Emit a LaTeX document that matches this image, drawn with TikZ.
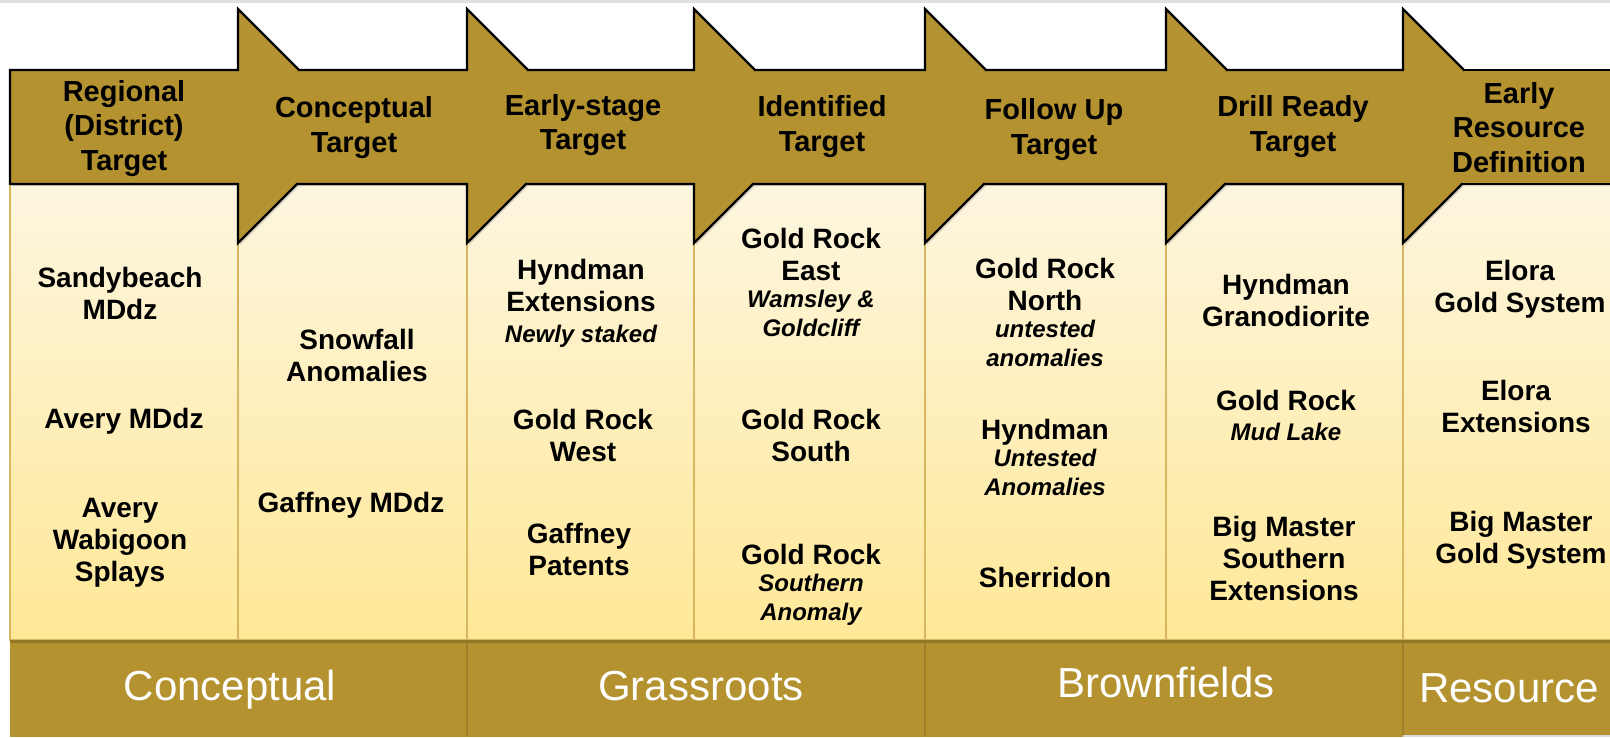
\documentclass[tikz,border=0pt]{standalone}
\usepackage{fontspec}
\setmainfont{Liberation Sans}
\usetikzlibrary{positioning,shadows}

\definecolor{gold}{HTML}{B3922F}
\definecolor{cream}{HTML}{FDF6E0}
\definecolor{butter}{HTML}{FFE897}
\definecolor{rim}{HTML}{D9B760}

\begin{document}
\begin{tikzpicture}[x=1pt, y=-1pt,
    column/.style={draw=rim, line width=2pt, top color=cream, bottom color=butter},
    chevron/.style={fill=gold, drop shadow={shadow xshift=2pt, shadow yshift=-2pt, opacity=.3}},
    outline/.style={draw=black, line width=2.2pt, line join=miter},
    head/.style={font=\bfseries\fontsize{29}{34.5}\selectfont, align=center, inner sep=0pt,
        execute at begin node=\strut, execute at end node=\strut},
    item/.style={font=\bfseries\fontsize{28}{32}\selectfont, align=center, inner sep=0pt,
        execute at begin node=\strut, execute at end node=\strut},
    note/.style={font=\bfseries\itshape\fontsize{24}{29}\selectfont, align=center, inner sep=0pt,
        execute at begin node=\strut, execute at end node=\strut},
    phase/.style={font=\fontsize{42}{48}\selectfont, text=white, inner sep=0pt, anchor=base}]
            \useasboundingbox (0,0) rectangle (1610,737);
            \fill[black!12] (0,0) rectangle (1610,3);

            \path[column] (10,184) rectangle (238,640);
            \path[column] (238,184) rectangle (467,640);
            \path[column] (467,184) rectangle (694,640);
            \path[column] (694,184) rectangle (925,640);
            \path[column] (925,184) rectangle (1166,640);
            \path[column] (1166,184) rectangle (1403,640);
            \path[column] (1403,184) rectangle (1614,640);

            \fill[gold] (10,640) rectangle (467,737);
            \fill[gold] (467,640) rectangle (925,737);
            \fill[gold] (925,640) rectangle (1403,737);
            \fill[gold] (1403,640) rectangle (1610,735);
            \fill[black!15] (1403,735) rectangle (1610,737);
            \draw[gold!65!black, line width=2.5pt, opacity=.5] (10,641.5) -- (1610,641.5);
            \draw[gold!80!black, line width=1.5pt, opacity=.6] (467,640) -- (467,737);
            \draw[gold!80!black, line width=1.5pt, opacity=.6] (925,640) -- (925,737);
            \draw[gold!80!black, line width=1.5pt, opacity=.6] (1403,640) -- (1403,735);

            \path[chevron] (10,70) -- (238,70) -- (238,9) -- (355,126) -- (238,243) -- (238,184) -- (10,184) -- cycle;
            \draw[outline] (10,70) -- (238,70) -- (238,9) -- (355,126) -- (238,243) -- (238,184) -- (10,184) -- cycle;
            \path[chevron] (299,70) -- (467,70) -- (467,9) -- (584,126) -- (467,243) -- (467,184) -- (297,184) -- cycle;
            \draw[outline] (297,184) -- (467,184) -- (467,243) -- (584,126) -- (467,9) -- (467,70) -- (299,70);
            \path[chevron] (528,70) -- (694,70) -- (694,9) -- (811,126) -- (694,243) -- (694,184) -- (526,184) -- cycle;
            \draw[outline] (526,184) -- (694,184) -- (694,243) -- (811,126) -- (694,9) -- (694,70) -- (528,70);
            \path[chevron] (755,70) -- (925,70) -- (925,9) -- (1042,126) -- (925,243) -- (925,184) -- (753,184) -- cycle;
            \draw[outline] (753,184) -- (925,184) -- (925,243) -- (1042,126) -- (925,9) -- (925,70) -- (755,70);
            \path[chevron] (986,70) -- (1166,70) -- (1166,9) -- (1283,126) -- (1166,243) -- (1166,184) -- (984,184) -- cycle;
            \draw[outline] (984,184) -- (1166,184) -- (1166,243) -- (1283,126) -- (1166,9) -- (1166,70) -- (986,70);
            \path[chevron] (1227,70) -- (1403,70) -- (1403,9) -- (1520,126) -- (1403,243) -- (1403,184) -- (1225,184) -- cycle;
            \draw[outline] (1225,184) -- (1403,184) -- (1403,243) -- (1520,126) -- (1403,9) -- (1403,70) -- (1227,70);
            \path[chevron] (1464,70) -- (1616,70) -- (1616,184) -- (1462,184) -- cycle;
            \draw[outline] (1462,184) -- (1616,184) (1464,70) -- (1616,70);

            \node[head] (regional) at (124,130.5) {Regional\\(District)\\Target};
            \node[head] (concept) at (354,129.5) {Conceptual\\Target};
            \node[head] (early) at (583,127) {Early-stage\\Target};
            \node[head] (ident) at (822,128.5) {Identified\\Target};
            \node[head] (follow) at (1054,131.5) {Follow Up\\Target};
            \node[head] (drill) at (1293,128.5) {Drill Ready\\Target};
            \node[head] (resdef) at (1519,132.5) {Early\\Resource\\Definition};

            \node[item] (sandy) at (120,298) {Sandybeach\\MDdz};
            \node[item] (avery) at (124,421.6) {Avery MDdz};
            \node[item] (wabi) at (120,545) {Avery\\Wabigoon\\Splays};

            \node[item] (snow) at (357,360) {Snowfall\\Anomalies};
            \node[item] (gaffm) at (351,505.6) {Gaffney MDdz};

            \node[item] (hynext) at (581,290.6) {Hyndman\\Extensions};
            \node[note, below=0pt of hynext] (newly) {Newly staked};
            \node[item] (gwest) at (583,440) {Gold Rock\\West};
            \node[item] (gpat) at (579,554) {Gaffney\\Patents};

            \node[item] (geast) at (811,259) {Gold Rock\\East};
            \node[note, below=0pt of geast] (wams) {Wamsley \&\\Goldcliff};
            \node[item] (gsouth) at (811,440) {Gold Rock\\South};
            \node[item] (gsanom) at (811,557.6) {Gold Rock};
            \node[note, below=0pt of gsanom] (sanom) {Southern\\Anomaly};

            \node[item] (gnorth) at (1045,289) {Gold Rock\\North};
            \node[note, below=0pt of gnorth] (untest) {untested\\anomalies};
            \node[item] (hynd) at (1045,432.6) {Hyndman};
            \node[note, below=0pt of hynd] (hunt) {Untested\\Anomalies};
            \node[item] (sherr) at (1045,580.6) {Sherridon};

            \node[item] (grano) at (1286,305) {Hyndman\\Granodiorite};
            \node[item] (gmud) at (1286,403.6) {Gold Rock};
            \node[note, below=0pt of gmud] (mudl) {Mud Lake};
            \node[item] (bigsth) at (1284,563) {Big Master\\Southern\\Extensions};

            \node[item] (elora) at (1520,291) {Elora\\Gold System};
            \node[item] (eloext) at (1516,411.6) {Elora\\Extensions};
            \node[item] (bigm) at (1521,542) {Big Master\\Gold System};

            \node[phase] (concep) at (230,700) {Conceptual};
            \node[phase] (grass) at (701,700) {Grassroots};
            \node[phase] (brown) at (1166,697) {Brownfields};
            \node[phase] (res) at (1509,702) {Resource};
        \end{tikzpicture}
\end{document}
